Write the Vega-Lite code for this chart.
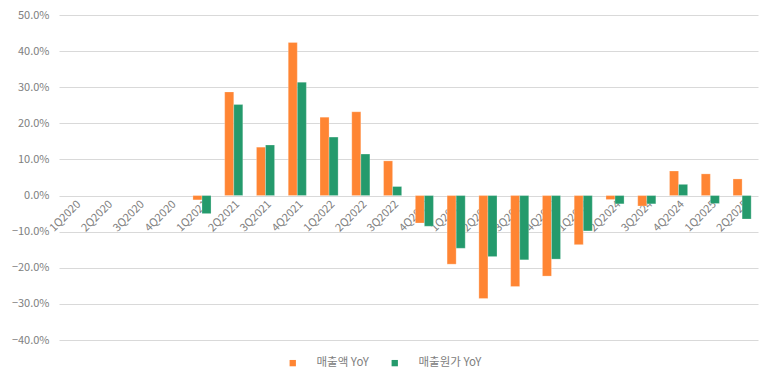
{
  "$schema": "https://vega.github.io/schema/vega-lite/v6.json",
  "width": 699,
  "height": 325,
  "autosize": {"type": "none"},
  "padding": {"left": 59, "top": 15, "right": 15, "bottom": 41},
  "background": "white",
  "config": {
    "view": {"stroke": null},
    "font": "Noto Sans CJK KR",
    "axis": {"labelFont": "Noto Sans CJK KR", "labelColor": "#808080", "labelFontSize": 11}
  },
  "data": {
    "values": [
      {"q": "1Q2021", "s": "매출액 YoY", "v": -0.012},
      {"q": "1Q2021", "s": "매출원가 YoY", "v": -0.050},
      {"q": "2Q2021", "s": "매출액 YoY", "v": 0.287},
      {"q": "2Q2021", "s": "매출원가 YoY", "v": 0.252},
      {"q": "3Q2021", "s": "매출액 YoY", "v": 0.134},
      {"q": "3Q2021", "s": "매출원가 YoY", "v": 0.140},
      {"q": "4Q2021", "s": "매출액 YoY", "v": 0.424},
      {"q": "4Q2021", "s": "매출원가 YoY", "v": 0.314},
      {"q": "1Q2022", "s": "매출액 YoY", "v": 0.217},
      {"q": "1Q2022", "s": "매출원가 YoY", "v": 0.162},
      {"q": "2Q2022", "s": "매출액 YoY", "v": 0.232},
      {"q": "2Q2022", "s": "매출원가 YoY", "v": 0.115},
      {"q": "3Q2022", "s": "매출액 YoY", "v": 0.096},
      {"q": "3Q2022", "s": "매출원가 YoY", "v": 0.025},
      {"q": "4Q2022", "s": "매출액 YoY", "v": -0.076},
      {"q": "4Q2022", "s": "매출원가 YoY", "v": -0.085},
      {"q": "1Q2023", "s": "매출액 YoY", "v": -0.190},
      {"q": "1Q2023", "s": "매출원가 YoY", "v": -0.146},
      {"q": "2Q2023", "s": "매출액 YoY", "v": -0.285},
      {"q": "2Q2023", "s": "매출원가 YoY", "v": -0.169},
      {"q": "3Q2023", "s": "매출액 YoY", "v": -0.252},
      {"q": "3Q2023", "s": "매출원가 YoY", "v": -0.178},
      {"q": "4Q2023", "s": "매출액 YoY", "v": -0.223},
      {"q": "4Q2023", "s": "매출원가 YoY", "v": -0.176},
      {"q": "1Q2024", "s": "매출액 YoY", "v": -0.136},
      {"q": "1Q2024", "s": "매출원가 YoY", "v": -0.098},
      {"q": "2Q2024", "s": "매출액 YoY", "v": -0.011},
      {"q": "2Q2024", "s": "매출원가 YoY", "v": -0.023},
      {"q": "3Q2024", "s": "매출액 YoY", "v": -0.029},
      {"q": "3Q2024", "s": "매출원가 YoY", "v": -0.023},
      {"q": "4Q2024", "s": "매출액 YoY", "v": 0.068},
      {"q": "4Q2024", "s": "매출원가 YoY", "v": 0.031},
      {"q": "1Q2025", "s": "매출액 YoY", "v": 0.060},
      {"q": "1Q2025", "s": "매출원가 YoY", "v": -0.022},
      {"q": "2Q2025", "s": "매출액 YoY", "v": 0.046},
      {"q": "2Q2025", "s": "매출원가 YoY", "v": -0.065}
    ]
  },
  "mark": {"type": "bar", "stroke": "#ffffff", "strokeOpacity": 0.5, "strokeWidth": 0.5},
  "encoding": {
    "x": {
      "field": "q",
      "type": "nominal",
      "sort": null,
      "scale": {
        "domain": ["1Q2020","2Q2020","3Q2020","4Q2020","1Q2021","2Q2021","3Q2021","4Q2021","1Q2022","2Q2022","3Q2022","4Q2022","1Q2023","2Q2023","3Q2023","4Q2023","1Q2024","2Q2024","3Q2024","4Q2024","1Q2025","2Q2025"],
        "paddingInner": 0.43,
        "paddingOuter": 0.215
      },
      "axis": {
        "title": null,
        "offset": -145,
        "labelAngle": -45,
        "labelPadding": 3,
        "ticks": false,
        "domain": false,
        "grid": false
      }
    },
    "xOffset": {
      "field": "s",
      "type": "nominal",
      "sort": ["매출액 YoY", "매출원가 YoY"]
    },
    "y": {
      "field": "v",
      "type": "quantitative",
      "scale": {"domain": [-0.4, 0.5], "nice": false},
      "axis": {
        "title": null,
        "format": ".1%",
        "values": [-0.4,-0.3,-0.2,-0.1,0,0.1,0.2,0.3,0.4,0.5],
        "ticks": false,
        "domain": false,
        "gridColor": "#d9d9d9",
        "gridWidth": 1,
        "labelPadding": 10
      }
    },
    "color": {
      "field": "s",
      "type": "nominal",
      "sort": ["매출액 YoY", "매출원가 YoY"],
      "scale": {"range": ["#ff8533", "#249a6c"]},
      "legend": {
        "title": null,
        "orient": "none",
        "legendX": 228,
        "legendY": 342,
        "direction": "horizontal",
        "symbolType": "square",
        "symbolSize": 40,
        "symbolStrokeWidth": 0,
        "labelFont": "Noto Sans CJK KR",
        "labelColor": "#808080",
        "labelFontSize": 11.5,
        "columnPadding": 20,
        "labelOffset": 18
      }
    }
  }
}
